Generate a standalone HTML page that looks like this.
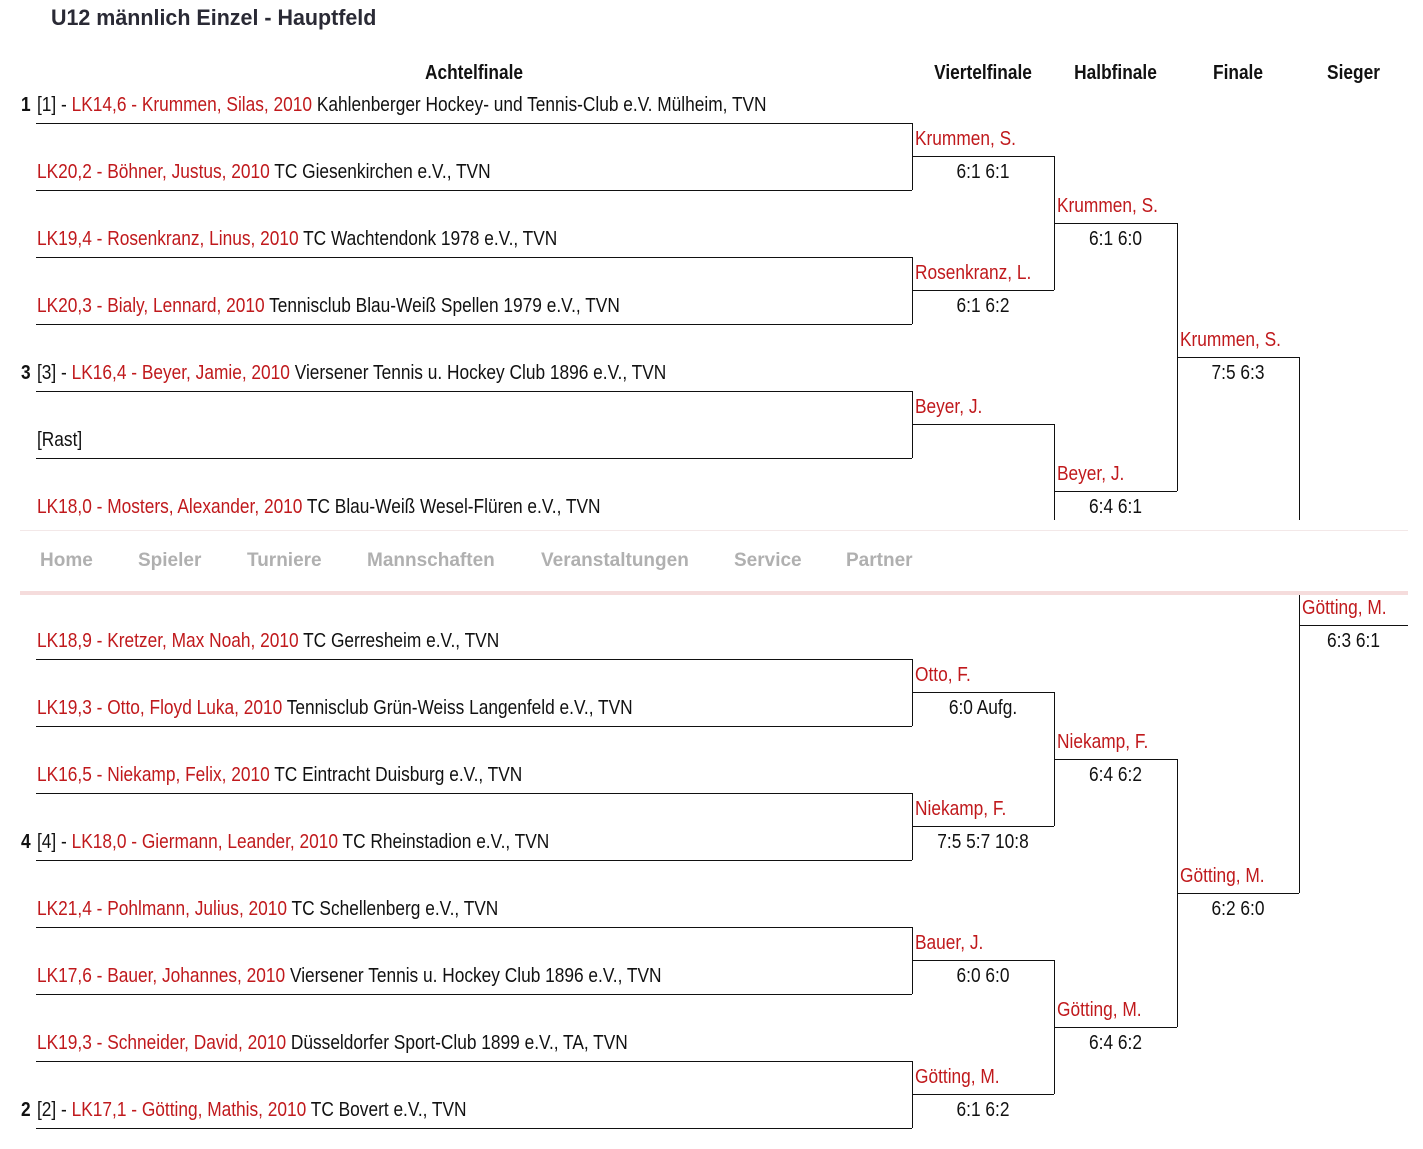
<!DOCTYPE html>
<html><head><meta charset="utf-8"><style>
body{margin:0;width:1423px;height:1149px;background:#fff;position:relative;overflow:hidden;font-family:"Liberation Sans",sans-serif;color:#111}
.t{position:absolute;white-space:nowrap;line-height:24px;font-size:20px;transform:scaleX(0.865);transform-origin:left center}
.c{transform-origin:center center;text-align:center}
.r{color:#c0191c}
.b{font-weight:bold}
.h{position:absolute;height:0;border-top:1px solid #111}
.v{position:absolute;width:0;border-left:1px solid #111}
#nav{position:absolute;left:20px;top:520px;width:1388px;height:71px;background:#fff;border-bottom:4px solid #f5dcdc}
#nav i{position:absolute;left:0;right:0;top:10px;border-top:1px solid #f3e8e8}
#nav span{position:absolute;top:30px;font-weight:bold;font-size:19px;color:#b0b0b0}
</style></head><body>
<div class="t b" style="left:51px;top:6px;font-size:22px;color:#2a2a35;transform:scaleX(0.975)">U12 männlich Einzel - Hauptfeld</div>
<div class="t b c" style="left:36px;width:876px;top:61px">Achtelfinale</div>
<div class="t b c" style="left:912px;width:142px;top:61px">Viertelfinale</div>
<div class="t b c" style="left:1054px;width:123px;top:61px">Halbfinale</div>
<div class="t b c" style="left:1177px;width:122px;top:61px">Finale</div>
<div class="t b c" style="left:1299px;width:109px;top:61px">Sieger</div>

<div class="t b" style="left:21px;top:93px">1</div>
<div class="t" style="left:37px;top:93px">[1] - <span class="r">LK14,6 - Krummen, Silas, 2010</span> Kahlenberger Hockey- und Tennis-Club e.V. Mülheim, TVN</div>
<div class="t" style="left:37px;top:160px"><span class="r">LK20,2 - Böhner, Justus, 2010</span> TC Giesenkirchen e.V., TVN</div>
<div class="t" style="left:37px;top:227px"><span class="r">LK19,4 - Rosenkranz, Linus, 2010</span> TC Wachtendonk 1978 e.V., TVN</div>
<div class="t" style="left:37px;top:294px"><span class="r">LK20,3 - Bialy, Lennard, 2010</span> Tennisclub Blau-Weiß Spellen 1979 e.V., TVN</div>
<div class="t b" style="left:21px;top:361px">3</div>
<div class="t" style="left:37px;top:361px">[3] - <span class="r">LK16,4 - Beyer, Jamie, 2010</span> Viersener Tennis u. Hockey Club 1896 e.V., TVN</div>
<div class="t" style="left:37px;top:428px">[Rast]</div>
<div class="t" style="left:37px;top:495px"><span class="r">LK18,0 - Mosters, Alexander, 2010</span> TC Blau-Weiß Wesel-Flüren e.V., TVN</div>
<div class="t" style="left:37px;top:629px"><span class="r">LK18,9 - Kretzer, Max Noah, 2010</span> TC Gerresheim e.V., TVN</div>
<div class="t" style="left:37px;top:696px"><span class="r">LK19,3 - Otto, Floyd Luka, 2010</span> Tennisclub Grün-Weiss Langenfeld e.V., TVN</div>
<div class="t" style="left:37px;top:763px"><span class="r">LK16,5 - Niekamp, Felix, 2010</span> TC Eintracht Duisburg e.V., TVN</div>
<div class="t b" style="left:21px;top:830px">4</div>
<div class="t" style="left:37px;top:830px">[4] - <span class="r">LK18,0 - Giermann, Leander, 2010</span> TC Rheinstadion e.V., TVN</div>
<div class="t" style="left:37px;top:897px"><span class="r">LK21,4 - Pohlmann, Julius, 2010</span> TC Schellenberg e.V., TVN</div>
<div class="t" style="left:37px;top:964px"><span class="r">LK17,6 - Bauer, Johannes, 2010</span> Viersener Tennis u. Hockey Club 1896 e.V., TVN</div>
<div class="t" style="left:37px;top:1031px"><span class="r">LK19,3 - Schneider, David, 2010</span> Düsseldorfer Sport-Club 1899 e.V., TA, TVN</div>
<div class="t b" style="left:21px;top:1098px">2</div>
<div class="t" style="left:37px;top:1098px">[2] - <span class="r">LK17,1 - Götting, Mathis, 2010</span> TC Bovert e.V., TVN</div>

<div class="h" style="left:36px;width:876px;top:123px"></div>
<div class="h" style="left:36px;width:876px;top:190px"></div>
<div class="h" style="left:36px;width:876px;top:257px"></div>
<div class="h" style="left:36px;width:876px;top:324px"></div>
<div class="h" style="left:36px;width:876px;top:391px"></div>
<div class="h" style="left:36px;width:876px;top:458px"></div>
<div class="h" style="left:36px;width:876px;top:659px"></div>
<div class="h" style="left:36px;width:876px;top:726px"></div>
<div class="h" style="left:36px;width:876px;top:793px"></div>
<div class="h" style="left:36px;width:876px;top:860px"></div>
<div class="h" style="left:36px;width:876px;top:927px"></div>
<div class="h" style="left:36px;width:876px;top:994px"></div>
<div class="h" style="left:36px;width:876px;top:1061px"></div>
<div class="h" style="left:36px;width:876px;top:1128px"></div>
<div class="v" style="left:912px;top:123px;height:67px"></div>
<div class="v" style="left:912px;top:257px;height:67px"></div>
<div class="v" style="left:912px;top:391px;height:67px"></div>
<div class="v" style="left:912px;top:659px;height:67px"></div>
<div class="v" style="left:912px;top:793px;height:67px"></div>
<div class="v" style="left:912px;top:927px;height:67px"></div>
<div class="v" style="left:912px;top:1061px;height:67px"></div>
<div class="h" style="left:912px;width:142px;top:156px"></div>
<div class="h" style="left:912px;width:142px;top:290px"></div>
<div class="h" style="left:912px;width:142px;top:424px"></div>
<div class="h" style="left:912px;width:142px;top:692px"></div>
<div class="h" style="left:912px;width:142px;top:826px"></div>
<div class="h" style="left:912px;width:142px;top:960px"></div>
<div class="h" style="left:912px;width:142px;top:1094px"></div>
<div class="t r" style="left:915px;top:127px">Krummen, S.</div>
<div class="t c" style="left:912px;width:142px;top:160px">6:1 6:1</div>
<div class="t r" style="left:915px;top:261px">Rosenkranz, L.</div>
<div class="t c" style="left:912px;width:142px;top:294px">6:1 6:2</div>
<div class="t r" style="left:915px;top:395px">Beyer, J.</div>
<div class="t r" style="left:915px;top:663px">Otto, F.</div>
<div class="t c" style="left:912px;width:142px;top:696px">6:0 Aufg.</div>
<div class="t r" style="left:915px;top:797px">Niekamp, F.</div>
<div class="t c" style="left:912px;width:142px;top:830px">7:5 5:7 10:8</div>
<div class="t r" style="left:915px;top:931px">Bauer, J.</div>
<div class="t c" style="left:912px;width:142px;top:964px">6:0 6:0</div>
<div class="t r" style="left:915px;top:1065px">Götting, M.</div>
<div class="t c" style="left:912px;width:142px;top:1098px">6:1 6:2</div>
<div class="v" style="left:1054px;top:156px;height:134px"></div>
<div class="v" style="left:1054px;top:424px;height:134px"></div>
<div class="v" style="left:1054px;top:692px;height:134px"></div>
<div class="v" style="left:1054px;top:960px;height:134px"></div>
<div class="h" style="left:1054px;width:123px;top:223px"></div>
<div class="h" style="left:1054px;width:123px;top:491px"></div>
<div class="h" style="left:1054px;width:123px;top:759px"></div>
<div class="h" style="left:1054px;width:123px;top:1027px"></div>
<div class="t r" style="left:1057px;top:194px">Krummen, S.</div>
<div class="t c" style="left:1054px;width:123px;top:227px">6:1 6:0</div>
<div class="t r" style="left:1057px;top:462px">Beyer, J.</div>
<div class="t c" style="left:1054px;width:123px;top:495px">6:4 6:1</div>
<div class="t r" style="left:1057px;top:730px">Niekamp, F.</div>
<div class="t c" style="left:1054px;width:123px;top:763px">6:4 6:2</div>
<div class="t r" style="left:1057px;top:998px">Götting, M.</div>
<div class="t c" style="left:1054px;width:123px;top:1031px">6:4 6:2</div>
<div class="v" style="left:1177px;top:223px;height:268px"></div>
<div class="v" style="left:1177px;top:759px;height:268px"></div>
<div class="h" style="left:1177px;width:122px;top:357px"></div>
<div class="h" style="left:1177px;width:122px;top:893px"></div>
<div class="t r" style="left:1180px;top:328px">Krummen, S.</div>
<div class="t c" style="left:1177px;width:122px;top:361px">7:5 6:3</div>
<div class="t r" style="left:1180px;top:864px">Götting, M.</div>
<div class="t c" style="left:1177px;width:122px;top:897px">6:2 6:0</div>
<div class="v" style="left:1299px;top:357px;height:536px"></div>
<div class="h" style="left:1299px;width:109px;top:625px"></div>
<div class="t c" style="left:1299px;width:109px;top:629px">6:3 6:1</div>

<div id="nav"><i></i>
<span style="left:20px">Home</span><span style="left:118px">Spieler</span><span style="left:227px">Turniere</span><span style="left:347px">Mannschaften</span><span style="left:521px">Veranstaltungen</span><span style="left:714px">Service</span><span style="left:826px">Partner</span>
</div>
<div class="t r" style="left:1302px;top:596px">Götting, M.</div>
</body></html>
